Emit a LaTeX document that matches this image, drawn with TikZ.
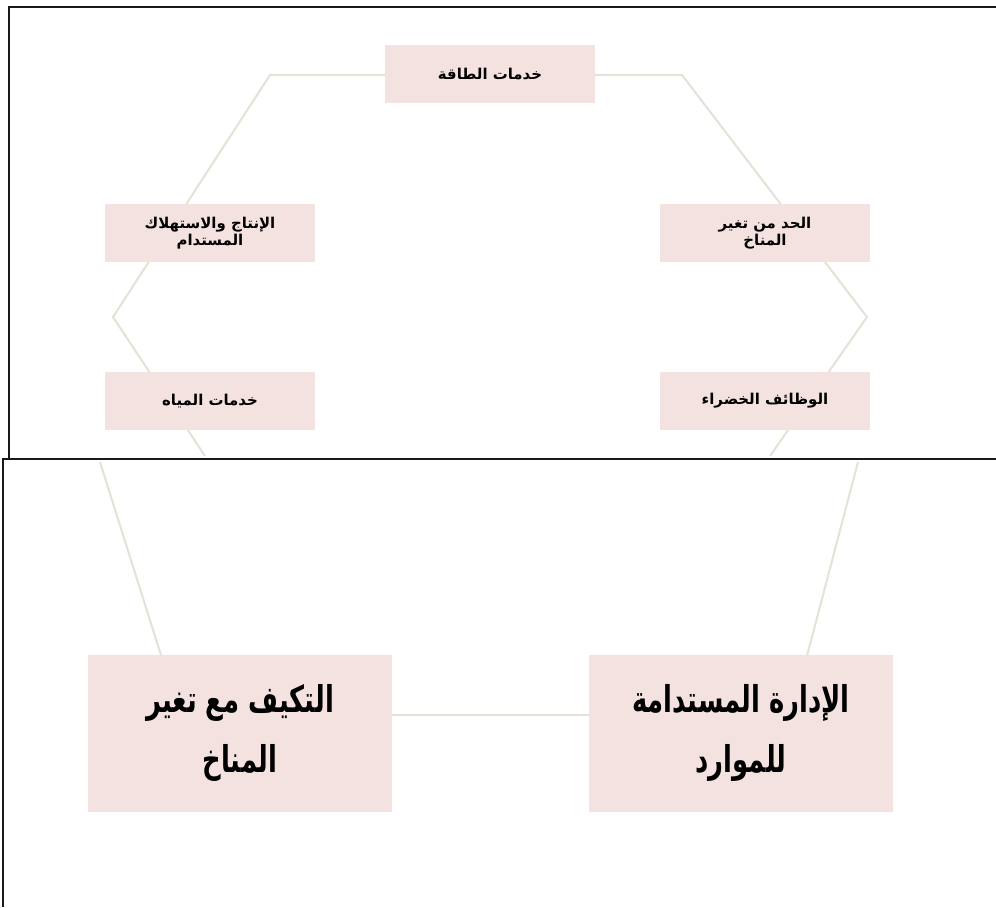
\documentclass[tikz,border=0pt]{standalone}
\usepackage{fontspec}
\newfontfamily\arabicfont[Script=Arabic]{DejaVu Sans}
\newfontfamily\arabiccond[Script=Arabic,FakeStretch=0.7]{DejaVu Sans}
\TeXXeTstate=1
\newcommand{\artext}[1]{\beginR #1\endR}
\definecolor{boxfill}{RGB}{243,226,223}
\definecolor{hexgrey}{RGB}{230,226,216}
\definecolor{framegrey}{RGB}{25,25,25}
\tikzset{
  smallbox/.style={fill=boxfill, minimum width=4.2cm, minimum height=1.16cm,
    align=center, font=\arabicfont\bfseries\fontsize{8.5}{10}\selectfont},
  bigbox/.style={fill=boxfill, minimum width=6.08cm, minimum height=3.14cm,
    align=center, font=\arabiccond\bfseries\fontsize{21}{34}\selectfont},
  hexline/.style={hexgrey, line width=1.2pt},
  frameline/.style={framegrey, line width=1.5pt}
}

\begin{document}
\begin{tikzpicture}[x=0.02cm, y=-0.02cm]
    \useasboundingbox (0,0) rectangle (996,907);
    % outline corners
    \coordinate (tl) at (270,75);
    \coordinate (tr) at (682,75);
    \coordinate (r) at (867,317);
    \coordinate (l) at (113,317);
    \coordinate (rb) at (770,456);
    \coordinate (lb) at (205,456);
    \coordinate (lt2) at (100,462);
    \coordinate (rt2) at (858,462);
    \coordinate (la2) at (172,690);
    \coordinate (ra2) at (798,690);
    % faint outline
    \draw[hexline] (lb) -- (l) -- (tl) -- (tr) -- (r) -- (rb);
    \draw[hexline] (lt2) -- (la2);
    \draw[hexline] (rt2) -- (ra2);
    % boxes, upper part
    \node[smallbox] (energy) at (490,74) {\artext{خدمات الطاقة}};
    \node[smallbox] (prodcons) at (210,233) {\artext{الإنتاج والاستهلاك}\\\artext{المستدام}};
    \node[smallbox] (climlim) at (765,233) {\artext{الحد من تغير}\\\artext{المناخ}};
    \node[smallbox] (water) at (210,401) {\artext{خدمات المياه}};
    \node[smallbox] (greenjobs) at (765,401) {\artext{الوظائف الخضراء}};
    % boxes, lower part
    \node[bigbox] (adapt) at (240,733) {\artext{التكيف مع تغير}\\\artext{المناخ}};
    \node[bigbox] (manage) at (741,733) {\artext{الإدارة المستدامة}\\\artext{للموارد}};
    \draw[hexline] ([yshift=0.36cm]adapt.east) -- ([yshift=0.36cm]manage.west);
    % frames
    \draw[frameline] (996,7) -- (9,7) -- (9,458);
    \draw[frameline] (3,907) -- (3,459) -- (996,459);
\end{tikzpicture}
\end{document}
